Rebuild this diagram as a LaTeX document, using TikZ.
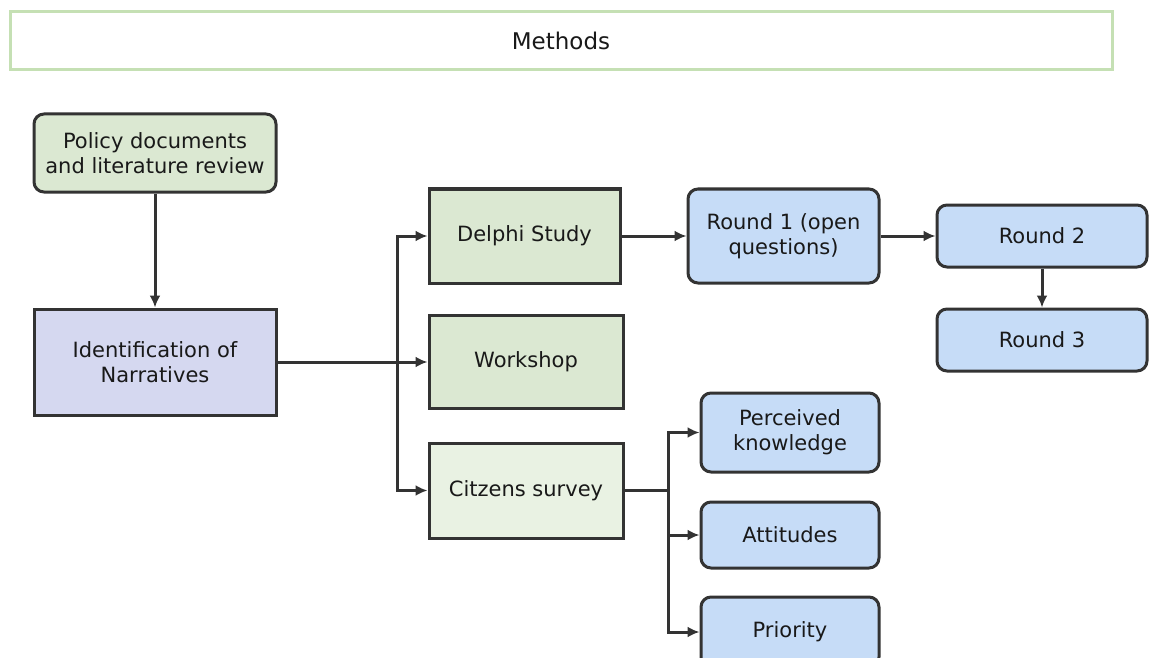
\documentclass[tikz,border=0pt]{standalone}
\usepackage{fontspec}
\setmainfont{DejaVu Sans}
\usetikzlibrary{arrows.meta}
\usetikzlibrary{positioning}
\definecolor{mgreen}{RGB}{219,232,210}
\definecolor{mpale}{RGB}{233,242,227}
\definecolor{mlilac}{RGB}{213,216,240}
\definecolor{mblue}{RGB}{198,220,247}
\definecolor{mframe}{RGB}{197,224,180}
\definecolor{mgrey}{RGB}{51,51,51}
\tikzset{box/.style = {draw=mgrey, line width=3pt, align=center, inner sep=0pt,
                       font=\fontsize{21}{25}\selectfont, text=black!90},
         rbox/.style = {box, rounded corners=10pt},
         wire/.style = {draw=mgrey, line width=3pt},
         arrowline/.style = {wire, -{Latex[length=12pt, width=11pt]}}}

\begin{document}
\begin{tikzpicture}[x=1pt, y=-1pt]
    \useasboundingbox (0, 0) rectangle (1149, 658);

    \node [box, draw=mframe, line width=3pt, fill=white, minimum width=1102pt, minimum height=58pt,
           font=\fontsize{23}{27}\selectfont] (methods) at (561, 41) {Methods};

    \node [rbox, fill=mgreen, minimum width=242pt, minimum height=78pt] (policy) at (155, 153) {Policy documents\\and literature review};
    \node [box, fill=mlilac, minimum width=242pt, minimum height=106pt] (ident) at (155, 362) {Identification of\\Narratives};

    \node [box, fill=mgreen, minimum width=191pt, minimum height=94pt] (delphi) at (524.5, 236) {Delphi Study};
    \node [box, fill=mgreen, minimum width=194pt, minimum height=93pt] (workshop) at (526, 362) {Workshop};
    \node [box, fill=mpale, minimum width=194pt, minimum height=95pt] (survey) at (526, 490.5) {Citzens survey};

    \node [rbox, fill=mblue, minimum width=191pt, minimum height=94pt] (round1) at (783.5, 236) {Round 1 (open\\questions)};
    \node [rbox, fill=mblue, minimum width=210pt, minimum height=62pt] (round2) at (1042, 236) {Round 2};
    \node [rbox, fill=mblue, minimum width=210pt, minimum height=62pt] (round3) at (1042, 340) {Round 3};

    \node [rbox, fill=mblue, minimum width=178pt, minimum height=79pt] (knowledge) at (790, 432.5) {Perceived\\knowledge};
    \node [rbox, fill=mblue, minimum width=178pt, minimum height=66pt] (attitudes) at (790, 535) {Attitudes};
    \node [rbox, fill=mblue, minimum width=178pt, minimum height=70pt] (priority) at (790, 632) {Priority};

    \coordinate (split) at (397, 362);
    \coordinate (fork) at (668, 490.5);

    \draw [arrowline] (policy) -- (ident);
    \draw [arrowline] (ident) -- (workshop);
    \draw [arrowline] (split) |- (delphi);
    \draw [arrowline] (split) |- (survey);
    \draw [arrowline] (delphi) -- (round1);
    \draw [arrowline] (round1) -- (round2);
    \draw [arrowline] (round2) -- (round3);

    \draw [wire] (survey) -- (fork);
    \draw [arrowline] (fork) |- (knowledge);
    \draw [arrowline] (fork) |- (attitudes);
    \draw [arrowline] (fork) |- (priority);
  \end{tikzpicture}
\end{document}
